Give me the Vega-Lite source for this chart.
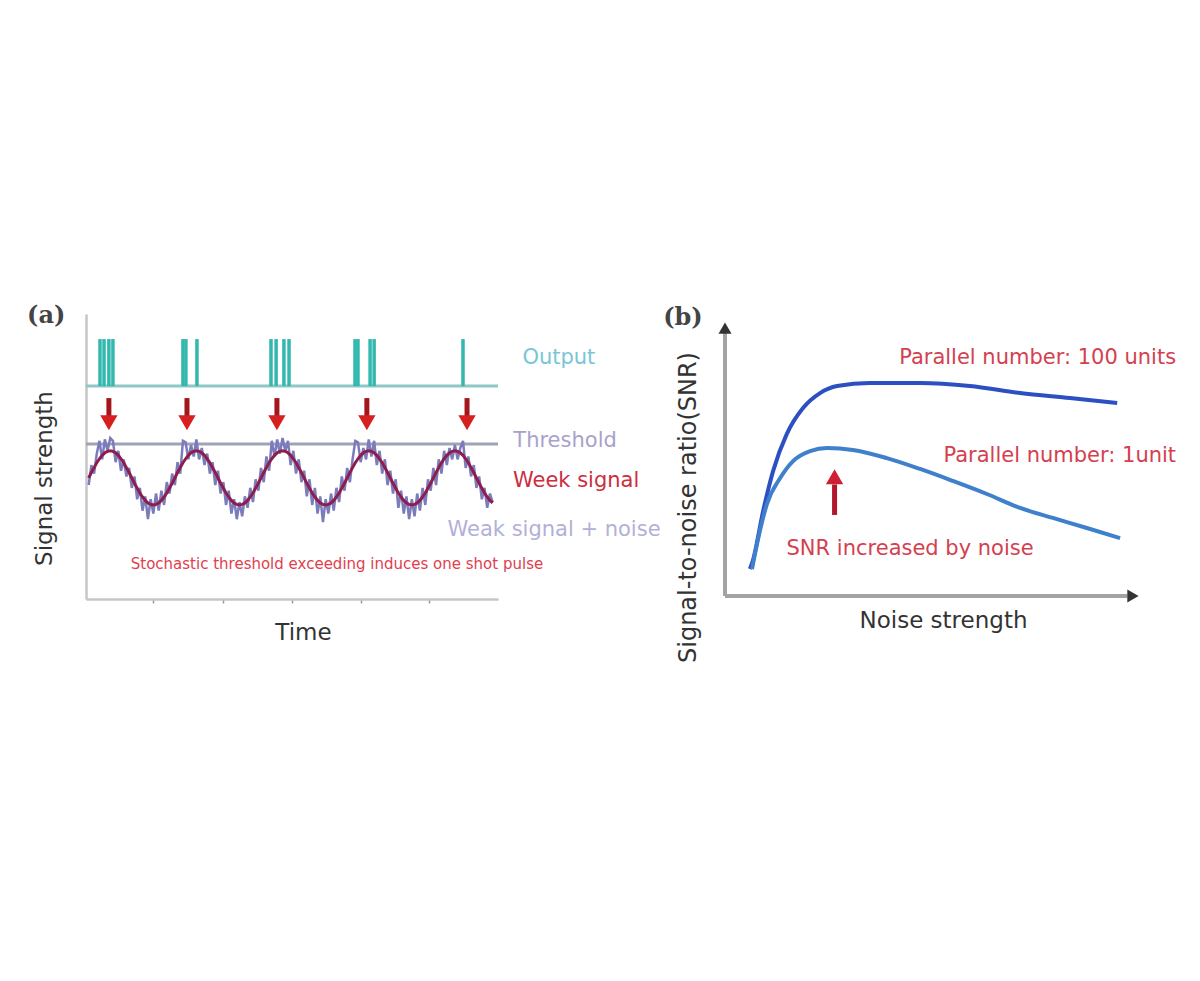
{
  "$schema": "https://vega.github.io/schema/vega-lite/v6.json",
  "background": "white",
  "padding": {"left": 27, "top": 303, "right": 5, "bottom": 5},
  "bounds": "flush",
  "spacing": 227,
  "config": {
    "view": {"stroke": null},
    "axis": {
      "grid": false, "labels": false, "ticks": false,
      "domainColor": "#c6c6c6", "domainWidth": 2.5,
      "titleFont": "DejaVu Sans", "titleFontWeight": "normal",
      "titleFontSize": 23, "titleColor": "#333333"
    }
  },
  "datasets": {
    "signal": [
      {"k":0,"w":4.25,"n":4.0},{"k":1,"w":4.44,"n":4.7},{"k":2,"w":4.61,"n":4.4},{"k":3,"w":4.78,"n":5.1},
      {"k":4,"w":4.92,"n":5.55},{"k":5,"w":5.04,"n":4.9},{"k":6,"w":5.13,"n":5.6},{"k":7,"w":5.18,"n":5.2},
      {"k":8,"w":5.20,"n":5.65},{"k":9,"w":5.18,"n":5.55},{"k":10,"w":5.13,"n":4.8},{"k":11,"w":5.04,"n":5.2},
      {"k":12,"w":4.92,"n":4.5},{"k":13,"w":4.78,"n":4.9},{"k":14,"w":4.61,"n":4.3},{"k":15,"w":4.44,"n":4.6},
      {"k":16,"w":4.25,"n":3.9},{"k":17,"w":4.06,"n":4.3},{"k":18,"w":3.89,"n":3.5},{"k":19,"w":3.72,"n":3.9},
      {"k":20,"w":3.58,"n":3.1},{"k":21,"w":3.46,"n":3.6},{"k":22,"w":3.37,"n":2.8},{"k":23,"w":3.32,"n":3.5},
      {"k":24,"w":3.30,"n":3.0},{"k":25,"w":3.32,"n":3.7},{"k":26,"w":3.37,"n":3.1},{"k":27,"w":3.46,"n":3.8},
      {"k":28,"w":3.58,"n":3.3},{"k":29,"w":3.72,"n":4.1},{"k":30,"w":3.89,"n":3.7},{"k":31,"w":4.06,"n":4.4},
      {"k":32,"w":4.25,"n":4.0},{"k":33,"w":4.44,"n":4.8},{"k":34,"w":4.61,"n":4.4},{"k":35,"w":4.78,"n":5.55},
      {"k":36,"w":4.92,"n":5.5},{"k":37,"w":5.04,"n":4.9},{"k":38,"w":5.13,"n":5.4},{"k":39,"w":5.18,"n":5.0},
      {"k":40,"w":5.20,"n":5.6},{"k":41,"w":5.18,"n":4.9},{"k":42,"w":5.13,"n":5.3},{"k":43,"w":5.04,"n":4.7},
      {"k":44,"w":4.92,"n":5.1},{"k":45,"w":4.78,"n":4.4},{"k":46,"w":4.61,"n":4.8},{"k":47,"w":4.44,"n":4.0},
      {"k":48,"w":4.25,"n":4.5},{"k":49,"w":4.06,"n":3.7},{"k":50,"w":3.89,"n":4.1},{"k":51,"w":3.72,"n":3.3},
      {"k":52,"w":3.58,"n":3.8},{"k":53,"w":3.46,"n":3.0},{"k":54,"w":3.37,"n":3.5},{"k":55,"w":3.32,"n":2.8},
      {"k":56,"w":3.30,"n":3.4},{"k":57,"w":3.32,"n":2.9},{"k":58,"w":3.37,"n":3.6},{"k":59,"w":3.46,"n":3.2},
      {"k":60,"w":3.58,"n":3.9},{"k":61,"w":3.72,"n":3.4},{"k":62,"w":3.89,"n":4.2},{"k":63,"w":4.06,"n":3.8},
      {"k":64,"w":4.25,"n":4.6},{"k":65,"w":4.44,"n":4.1},{"k":66,"w":4.61,"n":5.0},{"k":67,"w":4.78,"n":4.5},
      {"k":68,"w":4.92,"n":5.55},{"k":69,"w":5.04,"n":5.0},{"k":70,"w":5.13,"n":5.6},{"k":71,"w":5.18,"n":5.1},
      {"k":72,"w":5.20,"n":5.65},{"k":73,"w":5.18,"n":5.2},{"k":74,"w":5.13,"n":5.55},{"k":75,"w":5.04,"n":4.7},
      {"k":76,"w":4.92,"n":5.2},{"k":77,"w":4.78,"n":4.4},{"k":78,"w":4.61,"n":4.9},{"k":79,"w":4.44,"n":4.1},
      {"k":80,"w":4.25,"n":4.5},{"k":81,"w":4.06,"n":3.6},{"k":82,"w":3.89,"n":4.2},{"k":83,"w":3.72,"n":3.3},
      {"k":84,"w":3.58,"n":3.9},{"k":85,"w":3.46,"n":3.0},{"k":86,"w":3.37,"n":3.6},{"k":87,"w":3.32,"n":2.7},
      {"k":88,"w":3.30,"n":3.5},{"k":89,"w":3.32,"n":3.0},{"k":90,"w":3.37,"n":3.7},{"k":91,"w":3.46,"n":3.1},
      {"k":92,"w":3.58,"n":3.9},{"k":93,"w":3.72,"n":3.4},{"k":94,"w":3.89,"n":4.3},{"k":95,"w":4.06,"n":3.8},
      {"k":96,"w":4.25,"n":4.6},{"k":97,"w":4.44,"n":4.1},{"k":98,"w":4.61,"n":4.9},{"k":99,"w":4.78,"n":5.55},
      {"k":100,"w":4.92,"n":5.5},{"k":101,"w":5.04,"n":4.8},{"k":102,"w":5.13,"n":5.3},{"k":103,"w":5.18,"n":4.9},
      {"k":104,"w":5.20,"n":5.6},{"k":105,"w":5.18,"n":5.0},{"k":106,"w":5.13,"n":5.55},{"k":107,"w":5.04,"n":4.7},
      {"k":108,"w":4.92,"n":5.2},{"k":109,"w":4.78,"n":4.4},{"k":110,"w":4.61,"n":4.9},{"k":111,"w":4.44,"n":4.0},
      {"k":112,"w":4.25,"n":4.5},{"k":113,"w":4.06,"n":3.7},{"k":114,"w":3.89,"n":4.2},{"k":115,"w":3.72,"n":3.2},
      {"k":116,"w":3.58,"n":3.8},{"k":117,"w":3.46,"n":3.0},{"k":118,"w":3.37,"n":3.6},{"k":119,"w":3.32,"n":2.8},
      {"k":120,"w":3.30,"n":3.5},{"k":121,"w":3.32,"n":2.9},{"k":122,"w":3.37,"n":3.7},{"k":123,"w":3.46,"n":3.1},
      {"k":124,"w":3.58,"n":3.9},{"k":125,"w":3.72,"n":3.3},{"k":126,"w":3.89,"n":4.2},{"k":127,"w":4.06,"n":3.8},
      {"k":128,"w":4.25,"n":4.6},{"k":129,"w":4.44,"n":4.0},{"k":130,"w":4.61,"n":4.9},{"k":131,"w":4.78,"n":4.4},
      {"k":132,"w":4.92,"n":5.2},{"k":133,"w":5.04,"n":4.7},{"k":134,"w":5.13,"n":5.3},{"k":135,"w":5.18,"n":4.9},
      {"k":136,"w":5.20,"n":5.4},{"k":137,"w":5.18,"n":4.9},{"k":138,"w":5.13,"n":5.3},{"k":139,"w":5.04,"n":5.55},
      {"k":140,"w":4.92,"n":4.6},{"k":141,"w":4.78,"n":5.0},{"k":142,"w":4.61,"n":4.3},{"k":143,"w":4.44,"n":4.7},
      {"k":144,"w":4.25,"n":3.9},{"k":145,"w":4.06,"n":4.3},{"k":146,"w":3.89,"n":3.5},{"k":147,"w":3.72,"n":3.9},
      {"k":148,"w":3.58,"n":3.2},{"k":149,"w":3.46,"n":3.7},{"k":150,"w":3.37,"n":3.4}
    ],
    "levels": [
      {"line":"Output","k":-1,"k2":152,"v":7.47},
      {"line":"Threshold","k":-1,"k2":152,"v":5.44}
    ],
    "pulses": [
      {"k":4.2,"v":7.47,"v2":9.12},{"k":5.7,"v":7.47,"v2":9.12},{"k":7.5,"v":7.47,"v2":9.12},{"k":9.0,"v":7.47,"v2":9.12},
      {"k":35.0,"v":7.47,"v2":9.12},{"k":36.1,"v":7.47,"v2":9.12},{"k":40.2,"v":7.47,"v2":9.12},
      {"k":67.7,"v":7.47,"v2":9.12},{"k":69.6,"v":7.47,"v2":9.12},{"k":72.5,"v":7.47,"v2":9.12},{"k":74.4,"v":7.47,"v2":9.12},
      {"k":98.9,"v":7.47,"v2":9.12},{"k":100.0,"v":7.47,"v2":9.12},{"k":104.5,"v":7.47,"v2":9.12},{"k":106.0,"v":7.47,"v2":9.12},
      {"k":139.0,"v":7.47,"v2":9.12}
    ],
    "arrowsA": [
      {"k":7.5,"v":7.05,"v2":6.4,"tip":6.18},
      {"k":36.5,"v":7.05,"v2":6.4,"tip":6.18},
      {"k":69.9,"v":7.05,"v2":6.4,"tip":6.18},
      {"k":103.3,"v":7.05,"v2":6.4,"tip":6.18},
      {"k":140.5,"v":7.05,"v2":6.4,"tip":6.18}
    ],
    "labelsA": [
      {"label":"Output","k":174.6,"v":8.46},
      {"label":"Threshold","k":176.9,"v":5.54},
      {"label":"Week signal","k":181.0,"v":4.14},
      {"label":"Weak signal + noise","k":172.8,"v":2.42}
    ],
    "noteA": [
      {"label":"Stochastic threshold exceeding induces one shot pulse","k":92.2,"v":1.23}
    ],
    "tagA": [{"label":"(a)","k":-22.9,"v":9.93}],
    "curves": [
      {"s":"100 units","x":0.60,"y":0.99},{"s":"100 units","x":0.67,"y":1.29},{"s":"100 units","x":0.92,"y":3.13},
      {"s":"100 units","x":1.16,"y":4.60},{"s":"100 units","x":1.49,"y":5.96},{"s":"100 units","x":1.88,"y":6.91},
      {"s":"100 units","x":2.29,"y":7.46},{"s":"100 units","x":2.70,"y":7.72},{"s":"100 units","x":3.49,"y":7.83},
      {"s":"100 units","x":4.70,"y":7.83},{"s":"100 units","x":5.90,"y":7.72},{"s":"100 units","x":7.11,"y":7.46},
      {"s":"100 units","x":8.31,"y":7.28},{"s":"100 units","x":9.45,"y":7.10},
      {"s":"1 unit","x":0.65,"y":0.99},{"s":"1 unit","x":0.84,"y":2.39},{"s":"1 unit","x":1.01,"y":3.38},
      {"s":"1 unit","x":1.33,"y":4.34},{"s":"1 unit","x":1.64,"y":4.96},{"s":"1 unit","x":2.05,"y":5.33},
      {"s":"1 unit","x":2.46,"y":5.44},{"s":"1 unit","x":3.08,"y":5.37},{"s":"1 unit","x":3.90,"y":5.07},
      {"s":"1 unit","x":4.70,"y":4.67},{"s":"1 unit","x":5.49,"y":4.23},{"s":"1 unit","x":6.31,"y":3.75},
      {"s":"1 unit","x":7.11,"y":3.24},{"s":"1 unit","x":7.90,"y":2.87},{"s":"1 unit","x":8.72,"y":2.50},
      {"s":"1 unit","x":9.52,"y":2.13}
    ],
    "axesB": [
      {"x":0,"y":0,"x2":0,"y2":9.75},
      {"x":0,"y":0,"x2":9.7,"y2":0}
    ],
    "axisHeadsB": [
      {"dir":"up","x":0,"y":9.85},
      {"dir":"right","x":9.83,"y":0}
    ],
    "arrowB": [{"x":2.64,"y":2.98,"y2":4.1,"tip":4.38}],
    "labelsB": [
      {"label":"Parallel number: 100 units","x":10.87,"y":8.75},
      {"label":"Parallel number: 1unit","x":10.87,"y":5.15}
    ],
    "noteB": [{"label":"SNR increased by noise","x":4.46,"y":1.73}],
    "tagB": [{"label":"(b)","x":-1.49,"y":10.22}]
  },
  "hconcat": [
    {
      "width": 412,
      "height": 285,
      "encoding": {
        "x": {"field":"k","type":"quantitative","scale":{"domain":[-1,152],"nice":false,"zero":false},
              "axis":{"title":"Time","ticks":true,"values":[24,50,75.5,101,126.5],"tickSize":4,"tickColor":"#999999","tickWidth":1.5,"titlePadding":18,"titleX":217}},
        "y": {"field":"v","type":"quantitative","scale":{"domain":[0,10],"nice":false,"zero":false},
              "axis":{"title":"Signal strength","titlePadding":30,"titleY":164}}
      },
      "resolve": {"scale": {"color": "independent"}},
      "layer": [
        {"data":{"name":"levels"},"mark":{"type":"rule","strokeWidth":3},
         "encoding":{"x2":{"field":"k2"},"color":{"field":"line","type":"nominal","scale":{"domain":["Output","Threshold"],"range":["#8fc8c4","#9fa3b5"]},"legend":null}}},
        {"data":{"name":"pulses"},"mark":{"type":"rule","strokeWidth":3.5,"color":"#33b8b0"},
         "encoding":{"y2":{"field":"v2"}}},
        {"data":{"name":"signal"},"transform":[{"fold":["n"],"as":["series","v"]}],
         "mark":{"type":"line","strokeWidth":2.5,"color":"#7c7cbc"}},
        {"data":{"name":"signal"},"transform":[{"fold":["w"],"as":["series","v"]}],
         "mark":{"type":"line","strokeWidth":3,"color":"#8c1d4c"}},
        {"data":{"name":"arrowsA"},"mark":{"type":"rule","strokeWidth":5,"color":"#a3161c"},
         "encoding":{"y2":{"field":"v2"}}},
        {"data":{"name":"arrowsA"},"mark":{"type":"point","shape":"triangle-down","size":300,"filled":true,"color":"#d61f1f","opacity":1},
         "encoding":{"y":{"field":"tip","type":"quantitative","scale":{"domain":[0,10],"nice":false,"zero":false},
              "axis":{"title":"Signal strength","titlePadding":30,"titleY":164}}}},
        {"data":{"name":"labelsA"},"mark":{"type":"text","font":"DejaVu Sans","fontSize":21,"align":"center","baseline":"middle"},
         "encoding":{"text":{"field":"label"},"color":{"field":"label","type":"nominal","scale":{"domain":["Output","Threshold","Week signal","Weak signal + noise"],"range":["#79c6d6","#a7a2cc","#cc2e40","#b2b0d9"]},"legend":null}}},
        {"data":{"name":"noteA"},"mark":{"type":"text","font":"DejaVu Sans","fontSize":15,"align":"center","baseline":"middle","color":"#e0404f"},
         "encoding":{"text":{"field":"label"}}},
        {"data":{"name":"tagA"},"mark":{"type":"text","font":"DejaVu Serif","fontSize":24,"fontWeight":"bold","align":"left","baseline":"middle","color":"#444444"},
         "encoding":{"text":{"field":"label"}}}
      ]
    },
    {
      "width": 415,
      "height": 285,
      "encoding": {
        "x": {"field":"x","type":"quantitative","scale":{"domain":[0,10],"nice":false,"zero":false},
              "axis":{"title":"Noise strength","domain":false,"titlePadding":10,"titleX":218}},
        "y": {"field":"y","type":"quantitative","scale":{"domain":[-0.11,10.368],"nice":false,"zero":false},
              "axis":{"title":"Signal-to-noise ratio(SNR)","domain":false,"titlePadding":25,"titleY":193,"titleFontSize":24}}
      },
      "resolve": {"scale": {"color": "independent"}},
      "layer": [
        {"data":{"name":"axesB"},"mark":{"type":"rule","strokeWidth":4,"color":"#a3a3a3"},
         "encoding":{"x2":{"field":"x2"},"y2":{"field":"y2"}}},
        {"data":{"name":"axisHeadsB"},"mark":{"type":"point","filled":true,"size":170,"color":"#333333","opacity":1},
         "encoding":{"shape":{"field":"dir","type":"nominal","scale":{"domain":["up","right"],"range":["triangle-up","triangle-right"]},"legend":null}}},
        {"data":{"name":"curves"},"mark":{"type":"line","strokeWidth":4,"interpolate":"monotone"},
         "encoding":{"color":{"field":"s","type":"nominal","scale":{"domain":["100 units","1 unit"],"range":["#2c4fc2","#3f80cc"]},"legend":null}}},
        {"data":{"name":"arrowB"},"mark":{"type":"rule","strokeWidth":5,"color":"#b3172e"},
         "encoding":{"y2":{"field":"y2"}}},
        {"data":{"name":"arrowB"},"mark":{"type":"point","shape":"triangle-up","size":300,"filled":true,"color":"#cf1f33","opacity":1},
         "encoding":{"y":{"field":"tip","type":"quantitative","scale":{"domain":[-0.11,10.368],"nice":false,"zero":false},
              "axis":{"title":"Signal-to-noise ratio(SNR)","domain":false,"titlePadding":25,"titleY":193,"titleFontSize":24}}}},
        {"data":{"name":"labelsB"},"mark":{"type":"text","font":"DejaVu Sans","fontSize":21,"align":"right","baseline":"middle","color":"#d4404f"},
         "encoding":{"text":{"field":"label"}}},
        {"data":{"name":"noteB"},"mark":{"type":"text","font":"DejaVu Sans","fontSize":21,"align":"center","baseline":"middle","color":"#d4404f"},
         "encoding":{"text":{"field":"label"}}},
        {"data":{"name":"tagB"},"mark":{"type":"text","font":"DejaVu Serif","fontSize":24,"fontWeight":"bold","align":"left","baseline":"middle","color":"#444444"},
         "encoding":{"text":{"field":"label"}}}
      ]
    }
  ]
}
